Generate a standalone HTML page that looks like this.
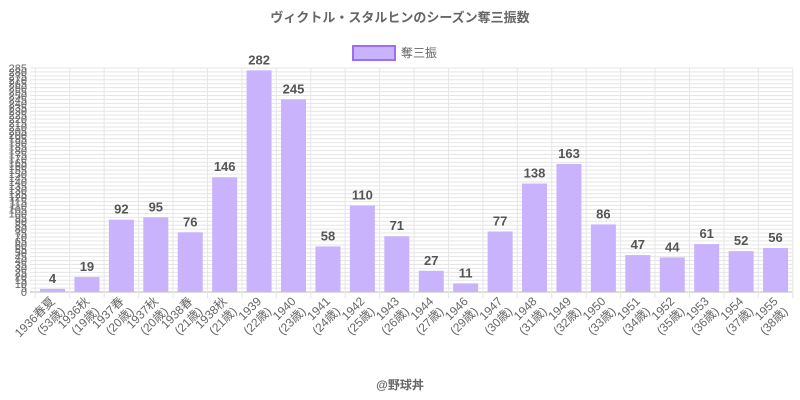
<!DOCTYPE html>
<html><head><meta charset="utf-8"><style>
html,body{margin:0;padding:0;background:#fff;width:800px;height:400px;overflow:hidden}
svg text{font-family:"Liberation Sans","Noto Sans CJK JP",sans-serif}
</style></head><body>
<svg id="s" width="800" height="400" xmlns="http://www.w3.org/2000/svg">
<text x="400" y="22" text-anchor="middle" font-size="13" font-weight="bold" fill="#666">ヴィクトル・スタルヒンのシーズン奪三振数</text>
<rect x="353" y="46" width="42" height="14" fill="#c9b3fd" stroke="#9c6cfb" stroke-width="2"/>
<text x="401" y="57" font-size="12" fill="#666">奪三振</text>
<text x="400" y="389" text-anchor="middle" font-size="12" font-weight="bold" fill="#666">@野球丼</text>
<g id="g"></g>
</svg>
<script>
var L=["1936春夏","1936秋","1937春","1937秋","1938春","1938秋","1939","1940","1941","1942","1943","1944","1946","1947","1948","1949","1950","1951","1952","1953","1954","1955"];
var A=[53,19,20,20,21,21,22,23,24,25,26,27,29,30,31,32,33,34,35,36,37,38];
var V=[4,19,92,95,76,146,282,245,58,110,71,27,11,77,138,163,86,47,44,61,52,56];
var x0=35.3,cw=34.43,y0=292,k=224/285,h='';
for(var t=0;t<=285;t+=5){var y=y0-t*k;h+='<line x1="30" x2="793" y1="'+y+'" y2="'+y+'" stroke="'+(t==0?'#bbb':'#e6e6e6')+'" stroke-width="1"/>';
h+='<text x="27" y="'+(y+4)+'" text-anchor="end" font-size="11" fill="#666">'+(t==285?285:t)+'</text>';}
for(var i=0;i<=22;i++){var x=x0+i*cw;h+='<line x1="'+x+'" x2="'+x+'" y1="68" y2="'+(y0+6)+'" stroke="#e6e6e6"/>';}
for(var i=0;i<22;i++){var c=x0+cw*(i+0.5),bh=V[i]*k,bw=25;
h+='<rect x="'+(c-bw/2)+'" y="'+(y0-bh)+'" width="'+bw+'" height="'+bh+'" fill="#c9b3fd"/>';
h+='<text x="'+c+'" y="'+(y0-bh-6)+'" text-anchor="middle" font-size="13" font-weight="bold" fill="#555">'+V[i]+'</text>';
h+='<g transform="translate('+(c+3)+',302) rotate(-45)"><text x="0" y="0" text-anchor="end" font-size="12" fill="#666">'+L[i]+'</text><text x="0" y="14" text-anchor="end" font-size="12" fill="#666">('+A[i]+'歳)</text></g>';}
document.getElementById('g').innerHTML=h;
</script>
</body></html>
